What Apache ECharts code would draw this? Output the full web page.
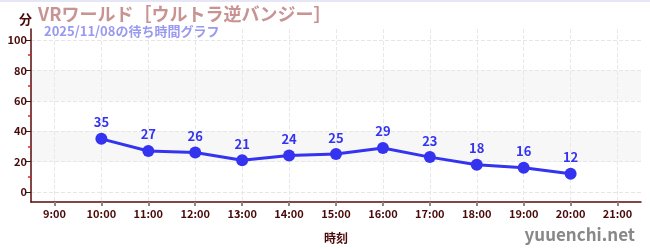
<!DOCTYPE html>
<html><head><meta charset="utf-8">
<script src="https://cdn.jsdelivr.net/npm/echarts@6/dist/echarts.min.js"></script>
<style>html,body{margin:0;padding:0;background:#fff}#c{width:650px;height:250px;border-top:2px solid #e6e6f6;box-sizing:border-box}</style>
</head><body><div id="c"></div>
<script>
const hours = [10, 11, 12, 13, 14, 15, 16, 17, 18, 19, 20];
const waits = [35, 27, 26, 21, 24, 25, 29, 23, 18, 16, 12];
const xTicks = [9, 10, 11, 12, 13, 14, 15, 16, 17, 18, 19, 20, 21];
const yTicks = [0, 20, 40, 60, 80, 100];
const yMinorTicks = [10, 30, 50, 70, 90];
const titleText = 'VRワールド［ウルトラ逆バンジー］';
const subText = '2025/11/08の待ち時間グラフ';

const font = '"Noto Sans CJK JP", "Noto Sans", sans-serif';
const chart = echarts.init(document.getElementById('c'));
chart.setOption({
  animation: false,
  textStyle: { fontFamily: font },
  title: [
    { text: titleText, left: 33, top: -2, textStyle: { color: '#c99393', fontSize: 18, fontWeight: 'bold', fontFamily: font } },
    { text: subText, left: 39, top: 18, textStyle: { color: '#9999f0', fontSize: 13, fontWeight: 'bold', fontFamily: font } },
    { text: '分', left: 14, top: 6, textStyle: { color: '#4a0a0a', fontSize: 13, fontWeight: 'bold', fontFamily: font } },
    { text: 'yuuenchi.net', right: 10, top: 219, textStyle: { color: '#888888', fontSize: 17, fontWeight: 'bold', fontFamily: font } }
  ],
  grid: { left: 31, right: 9, top: 27, bottom: 48, containLabel: false },
  xAxis: {
    type: 'value', min: 8.5, max: 21.5,
    name: '時刻', nameLocation: 'middle', nameGap: 30,
    nameTextStyle: { color: '#4a0a0a', fontWeight: 'bold', fontSize: 12 },
    axisLine: { onZero: false, lineStyle: { color: '#5a0a0a', width: 1.5 } },
    axisTick: { customValues: xTicks, length: 4, inside: false, lineStyle: { color: '#888', width: 2 } },
    axisLabel: { customValues: xTicks, formatter: v => v + ':00', color: '#4a0a0a', fontSize: 11, margin: 6, fontWeight: 'bold' },
    splitLine: { show: true, lineStyle: { color: '#e8e8e8', type: 'dashed' } }
  },
  yAxis: [{
    type: 'value', min: -6.5, max: 107.2,
    axisLine: { show: true, lineStyle: { color: '#5a0a0a', width: 1.5 } },
    axisTick: { show: true, customValues: yTicks, length: 5, lineStyle: { color: '#222' } },
    axisLabel: { customValues: yTicks, color: '#4a0a0a', fontSize: 11, margin: 4, fontWeight: 'bold' },
    splitLine: { show: true, lineStyle: { color: '#e6e6e6', type: 'dashed' } },
    splitArea: { show: true, areaStyle: { color: ['rgba(255,255,255,0)', '#f7f7f7'] } }
  }, {
    type: 'value', min: -6.5, max: 107.2, position: 'left',
    axisLine: { show: false },
    axisTick: { show: true, customValues: yMinorTicks, length: 3, lineStyle: { color: '#e02020', width: 1.5 } },
    axisLabel: { show: false },
    splitLine: { show: false }
  }],
  series: [{
    type: 'line',
    data: hours.map((h, i) => [h, waits[i]]),
    symbol: 'circle', symbolSize: 12,
    itemStyle: { color: '#3333f0' },
    lineStyle: { color: '#3333f0', width: 3 },
    label: { show: true, position: 'top', distance: 4, color: '#3333f0', fontSize: 13, fontWeight: 'bold' }
  }]
});
</script></body></html>
